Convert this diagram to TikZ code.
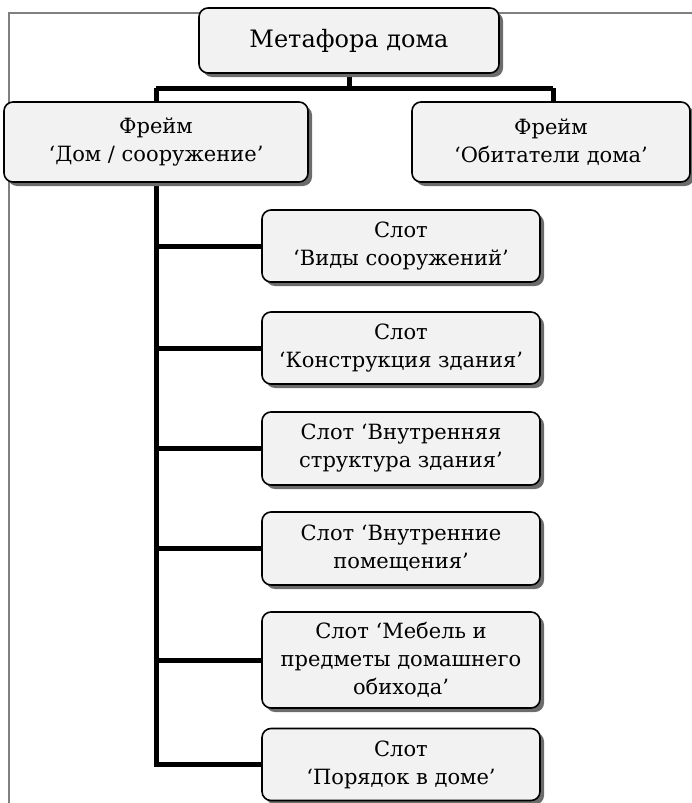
\documentclass[tikz,border=0pt]{standalone}
\usepackage{fontspec}
\setmainfont{DejaVu Serif}
\usetikzlibrary{shadows,backgrounds}

\tikzset{
  box/.style={draw=black, line width=1.6pt, rounded corners=9pt, fill=gray!10,
    align=center, inner sep=2pt, font=\fontsize{21}{28}\selectfont,
    drop shadow={shadow xshift=4pt, shadow yshift=-4pt, fill=gray!85!black, opacity=1}},
  link/.style={line width=5pt, line join=miter, black},
  frameline/.style={line width=2pt, draw=gray}
}

\begin{document}
\begin{tikzpicture}[x=1pt, y=-1pt]
  \useasboundingbox (0,0) rectangle (692,803);

  % thin page frame
  \draw[frameline] (9,803) -- (9,13) -- (692,13);

  % root and frames
  \node[box, minimum width=300pt, minimum height=65pt, font=\fontsize{24}{28}\selectfont] (root) at (349,40.5) {Метафора дома};
  \node[box, minimum width=304pt, minimum height=80pt] (house) at (156,142) {Фрейм\\‘Дом / сооружение’};
  \node[box, minimum width=278pt, minimum height=80pt] (dwellers) at (551,142) {Фрейм\\‘Обитатели дома’};

  % slots of the house frame
  \node[box, minimum width=278pt, minimum height=72pt] (s1) at (401,246) {Слот\\‘Виды сооружений’};
  \node[box, minimum width=278pt, minimum height=72pt] (s2) at (401,348) {Слот\\‘Конструкция здания’};
  \node[box, minimum width=278pt, minimum height=73pt] (s3) at (401,448.5) {Слот ‘Внутренняя\\структура здания’};
  \node[box, minimum width=278pt, minimum height=73pt] (s4) at (401,548.5) {Слот ‘Внутренние\\помещения’};
  \node[box, minimum width=278pt, minimum height=96pt] (s5) at (401,660) {Слот ‘Мебель и\\предметы домашнего\\обихода’};
  \node[box, minimum width=278pt, minimum height=72pt] (s6) at (401,764.5) {Слот\\‘Порядок в доме’};

  % connectors
  \coordinate (jl) at (156,88);
  \coordinate (jr) at (553,88);
  \begin{scope}[on background layer]
    \draw[link] (root.south) -- (root.south |- jl);
    \draw[link] (jl) -- (jr);
    \draw[link] (jl) -- (house.north);
    \draw[link] (jr) -- (jr |- dwellers.north);
    \draw[link] (house.south) |- (s6.west);
    \foreach \s in {s1,s2,s3,s4,s5}
      \draw[link] (house.south |- \s.west) -- (\s.west);
  \end{scope}
\end{tikzpicture}
\end{document}
